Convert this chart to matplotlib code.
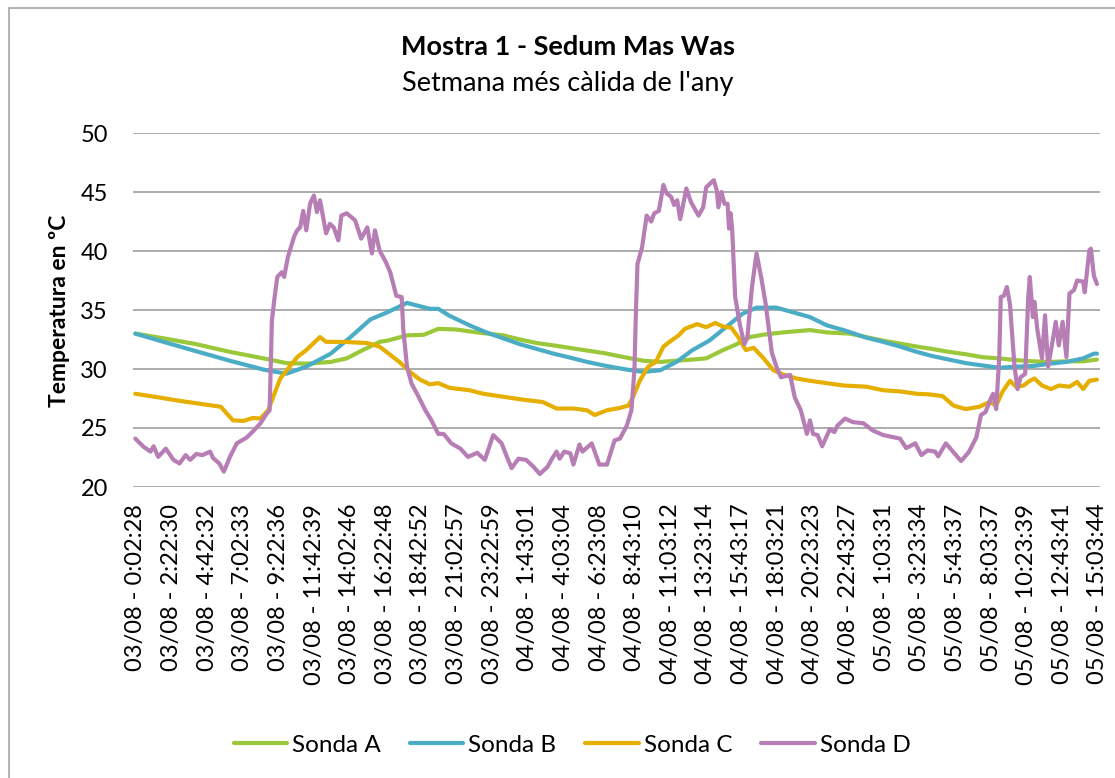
import matplotlib.pyplot as plt
from matplotlib.patches import Rectangle

plt.rcParams['font.family'] = ['Lato', 'DejaVu Sans']

# etiquetes de l'eix horitzontal (dia/mes - hora)
etiquetes = ['03/08 - 0:02:28', '03/08 - 2:22:30', '03/08 - 4:42:32', '03/08 - 7:02:33',
             '03/08 - 9:22:36', '03/08 - 11:42:39', '03/08 - 14:02:46', '03/08 - 16:22:48',
             '03/08 - 18:42:52', '03/08 - 21:02:57', '03/08 - 23:22:59', '04/08 - 1:43:01',
             '04/08 - 4:03:04', '04/08 - 6:23:08', '04/08 - 8:43:10', '04/08 - 11:03:12',
             '04/08 - 13:23:14', '04/08 - 15:43:17', '04/08 - 18:03:21', '04/08 - 20:23:23',
             '04/08 - 22:43:27', '05/08 - 1:03:31', '05/08 - 3:23:34', '05/08 - 5:43:37',
             '05/08 - 8:03:37', '05/08 - 10:23:39', '05/08 - 12:43:41', '05/08 - 15:03:44']

# hores des de les 0:00 del 03/08 i temperatures (ºC)
t_a = [0, 1.85, 4.0, 6.2, 8.4, 9.9, 11.2, 12.8, 13.85, 14.9, 16.0, 16.5, 17.8, 18.9, 19.85,
       21.0, 22.4, 24.1, 25.2, 26.3, 27.4, 28.9, 30.7, 32.2, 33.3, 34.4, 35.45, 36.5, 37.4,
       38.5, 39.4, 40.25, 41.1, 42.4, 44.2, 45.3, 46.8, 47.9, 49.0, 50.1, 51.2, 52.2, 53.3,
       54.4, 55.5, 56.6, 57.7, 58.8, 59.9, 61.0, 62.1, 63.0]
sonda_a = [33.0, 32.6, 32.1, 31.45, 30.9, 30.5, 30.45, 30.6, 30.9, 31.6, 32.3, 32.4, 32.85,
           32.9, 33.4, 33.35, 33.1, 32.85, 32.5, 32.2, 32.0, 31.7, 31.35, 30.96, 30.7, 30.6,
           30.7, 30.8, 30.9, 31.6, 32.1, 32.7, 32.9, 33.1, 33.3, 33.1, 33.0, 32.7, 32.4, 32.15,
           31.9, 31.7, 31.45, 31.25, 31.0, 30.9, 30.75, 30.65, 30.6, 30.65, 30.65, 30.8]

t_b = [0, 1.85, 4.0, 6.2, 8.4, 9.9, 11.2, 12.8, 14.1, 15.4, 16.5, 17.8, 18.7, 19.3, 19.85,
       20.6, 21.9, 23.0, 24.1, 25.2, 26.3, 27.4, 28.5, 29.6, 30.7, 31.1, 32.2, 33.3, 34.4,
       35.45, 36.5, 37.6, 38.7, 39.8, 40.7, 42.0, 43.1, 44.2, 45.3, 46.4, 47.9, 49.0, 50.1,
       51.2, 52.2, 53.3, 54.4, 55.5, 56.6, 57.7, 58.8, 59.9, 61.0, 62.1, 62.8, 63.0]
sonda_b = [33.0, 32.3, 31.5, 30.7, 29.95, 29.6, 30.2, 31.3, 32.7, 34.2, 34.8, 35.6, 35.3,
           35.1, 35.1, 34.5, 33.7, 33.1, 32.6, 32.1, 31.7, 31.3, 30.96, 30.6, 30.3, 30.2,
           29.95, 29.75, 29.9, 30.6, 31.6, 32.4, 33.55, 34.7, 35.2, 35.2, 34.8, 34.4, 33.7,
           33.3, 32.65, 32.3, 31.9, 31.45, 31.1, 30.8, 30.5, 30.3, 30.1, 30.2, 30.25, 30.45,
           30.6, 30.9, 31.3, 31.3]

t_c = [0, 1.5, 2.9, 5.6, 6.4, 7.1, 7.7, 8.2, 8.7, 9.5, 10.6, 11.2, 12.1, 12.5, 13.6, 15.2,
       16.0, 16.7, 17.3, 18.0, 18.65, 19.3, 19.85, 20.6, 21.9, 22.8, 24.1, 25.4, 26.7, 27.6,
       28.7, 29.6, 30.1, 30.9, 31.75, 32.3, 32.6, 33.05, 33.6, 34.1, 34.6, 35.0, 35.6, 36.0,
       36.8, 37.4, 38.0, 38.5, 39.05, 39.5, 40.0, 40.5, 41.1, 41.8, 42.4, 43.3, 44.2, 45.3,
       46.4, 47.9, 49.0, 50.1, 51.2, 52.0, 52.9, 53.6, 54.4, 55.3, 55.95, 56.4, 56.8, 57.3,
       57.7, 58.2, 58.6, 58.9, 59.4, 60.0, 60.5, 61.2, 61.7, 62.1, 62.5, 63.0]
sonda_c = [27.9, 27.6, 27.3, 26.8, 25.65, 25.6, 25.85, 25.8, 26.5, 29.2, 31.0, 31.6, 32.7,
           32.3, 32.3, 32.2, 31.9, 31.2, 30.6, 29.75, 29.1, 28.7, 28.8, 28.4, 28.2, 27.9,
           27.65, 27.4, 27.2, 26.65, 26.65, 26.5, 26.1, 26.5, 26.7, 26.9, 27.6, 29.0, 30.2,
           30.6, 31.9, 32.3, 32.85, 33.4, 33.8, 33.55, 33.9, 33.6, 33.5, 32.7, 31.6, 31.8,
           31.0, 29.9, 29.55, 29.2, 29.0, 28.8, 28.6, 28.5, 28.2, 28.1, 27.9, 27.85, 27.7,
           26.9, 26.6, 26.8, 27.2, 26.9, 28.05, 29.0, 28.5, 28.6, 29.0, 29.2, 28.6, 28.3,
           28.6, 28.5, 28.9, 28.3, 29.0, 29.1]

t_d = [0, 0.55, 1.0, 1.2, 1.5, 2.0, 2.5, 2.9, 3.3, 3.6, 4.0, 4.4, 4.9, 5.1, 5.5, 5.8, 6.2,
       6.65, 7.3, 7.7, 8.2, 8.6, 8.8, 8.95, 9.1, 9.3, 9.6, 9.75, 10.0, 10.4, 10.6, 10.8,
       11.0, 11.2, 11.45, 11.7, 11.9, 12.1, 12.3, 12.5, 12.75, 13.0, 13.3, 13.5, 13.85,
       14.4, 14.8, 15.2, 15.5, 15.7, 16.0, 16.4, 16.7, 16.9, 17.1, 17.45, 17.56, 17.8, 18.1,
       18.5, 19.0, 19.4, 19.85, 20.2, 20.7, 21.3, 21.8, 22.4, 22.9, 23.45, 24.0, 24.3,
       24.65, 25.1, 25.6, 26.1, 26.5, 27.0, 27.3, 27.6, 27.8, 28.1, 28.5, 28.7, 29.1, 29.3,
       29.9, 30.4, 30.9, 31.4, 31.75, 32.2, 32.5, 32.7, 32.8, 32.9, 33.2, 33.5, 33.8, 34.0,
       34.3, 34.6, 34.8, 35.1, 35.3, 35.5, 35.7, 36.1, 36.4, 36.9, 37.2, 37.4, 37.9, 38.1,
       38.2, 38.4, 38.6, 38.8, 38.9, 39.0, 39.1, 39.3, 39.6, 39.9, 40.1, 40.4, 40.7, 41.0,
       41.3, 41.7, 42.0, 42.3, 42.9, 43.2, 43.6, 44.0, 44.2, 44.4, 44.7, 45.0, 45.5, 45.8,
       46.0, 46.5, 47.0, 47.7, 48.3, 49.0, 50.1, 50.5, 51.1, 51.5, 51.9, 52.4, 52.6, 53.1,
       53.6, 54.1, 54.6, 55.1, 55.4, 55.7, 56.0, 56.2, 56.4, 56.6, 56.7, 56.9, 57.1, 57.3,
       57.6, 57.8, 58.0, 58.3, 58.5, 58.6, 58.8, 58.9, 59.1, 59.4, 59.6, 59.8, 60.1, 60.3,
       60.5, 60.75, 61.0, 61.2, 61.5, 61.7, 62.1, 62.2, 62.5, 62.6, 62.8, 63.0]
sonda_d = [24.1, 23.4, 23.0, 23.45, 22.55, 23.25, 22.3, 22.0, 22.7, 22.3, 22.8, 22.7, 23.0,
           22.45, 22.0, 21.3, 22.55, 23.7, 24.2, 24.7, 25.4, 26.2, 26.5, 34.1, 35.8, 37.8,
           38.2, 37.8, 39.5, 41.2, 41.75, 42.0, 43.4, 41.75, 44.0, 44.7, 43.3, 44.3, 42.9,
           41.5, 42.3, 42.0, 40.9, 43.0, 43.2, 42.6, 41.05, 42.0, 39.8, 41.75, 40.05, 39.1,
           38.2, 37.2, 36.2, 36.1, 33.3, 30.2, 28.75, 27.8, 26.5, 25.65, 24.5, 24.5, 23.7,
           23.25, 22.55, 22.9, 22.3, 24.4, 23.7, 22.7, 21.6, 22.4, 22.3, 21.7, 21.1, 21.7,
           22.4, 23.0, 22.4, 23.0, 22.85, 21.9, 23.6, 23.0, 23.7, 21.9, 21.9, 23.95, 24.1,
           25.2, 26.5, 29.9, 35.0, 38.9, 40.3, 43.0, 42.5, 43.2, 43.4, 45.6, 44.9, 44.6,
           43.9, 44.3, 42.7, 45.3, 44.15, 43.0, 43.7, 45.4, 46.0, 45.1, 43.7, 45.0, 44.0,
           44.0, 41.9, 43.2, 41.9, 36.1, 33.8, 32.1, 32.7, 36.95, 39.8, 37.8, 35.5, 31.4,
           30.2, 29.3, 29.5, 27.6, 26.5, 24.5, 25.65, 24.5, 24.4, 23.45, 24.9, 24.65, 25.2,
           25.8, 25.5, 25.4, 24.8, 24.4, 24.1, 23.3, 23.7, 22.7, 23.1, 23.0, 22.6, 23.7,
           22.95, 22.2, 22.95, 24.2, 26.1, 26.35, 27.35, 27.9, 26.6, 31.0, 36.1, 36.2, 36.95,
           35.5, 30.2, 28.3, 29.3, 29.6, 36.1, 37.8, 34.4, 35.7, 33.3, 30.9, 34.55, 30.2,
           32.4, 34.0, 32.0, 34.0, 31.0, 36.4, 36.7, 37.5, 37.4, 36.5, 40.05, 40.2, 37.9, 37.2]


def hores(etiqueta):
    dia, hora = etiqueta.split(' - ')
    h, m, s = [int(v) for v in hora.split(':')]
    return (int(dia[:2]) - 3) * 24 + h + m / 60 + s / 3600


W, H = 1115, 778
fig = plt.figure(figsize=(W / 100, H / 100), dpi=100)
fig.add_artist(Rectangle((9 / W, -0.1), 1.2, 1.1 - 8 / H, transform=fig.transFigure,
                         fill=False, edgecolor='#A6A6A6', lw=1.2))

ax = fig.add_axes([133 / W, 1 - 487 / H, (1100 - 133) / W, (487 - 133) / H])

estil = dict(lw=3, solid_capstyle='round', solid_joinstyle='round')
ax.plot(t_a, sonda_a, color='#9BC83A', label='Sonda A', **estil)
ax.plot(t_b, sonda_b, color='#4BACC6', label='Sonda B', **estil)
ax.plot(t_c, sonda_c, color='#E6AF00', label='Sonda C', **estil)
ax.plot(t_d, sonda_d, color='#B77DB5', label='Sonda D', **estil)

ax.set_xlim(-0.15, 63.2)
ax.set_ylim(20, 50)
ax.set_yticks(range(20, 51, 5))
ax.set_xticks([hores(e) for e in etiquetes])
ax.set_xticklabels(etiquetes, rotation=90)
ax.tick_params(axis='both', length=0, labelsize=17, colors='black')
ax.tick_params(axis='x', pad=12)
ax.tick_params(axis='y', pad=18)
ax.grid(axis='y', color='#A6A6A6', lw=1.3)
ax.set_axisbelow(True)
for s in ax.spines.values():
    s.set_visible(False)

fig.text(568 / W, 1 - 47 / H, 'Mostra 1 - Sedum Mas Was', ha='center', va='center',
         fontsize=19.5, fontweight='bold')
fig.text(568 / W, 1 - 84 / H, "Setmana més càlida de l'any", ha='center', va='center',
         fontsize=19.5)
fig.text(60 / W, 1 - 311 / H, 'Temperatura en ºC', rotation=90, ha='center', va='center',
         fontsize=16.5, fontweight='bold')

fig.legend(loc='center', bbox_to_anchor=(572 / W, 1 - 745 / H), ncol=4, frameon=False,
           fontsize=17.5, handlelength=2.2, handletextpad=0.2, columnspacing=1.2)

fig.savefig('out.png', dpi=100)
